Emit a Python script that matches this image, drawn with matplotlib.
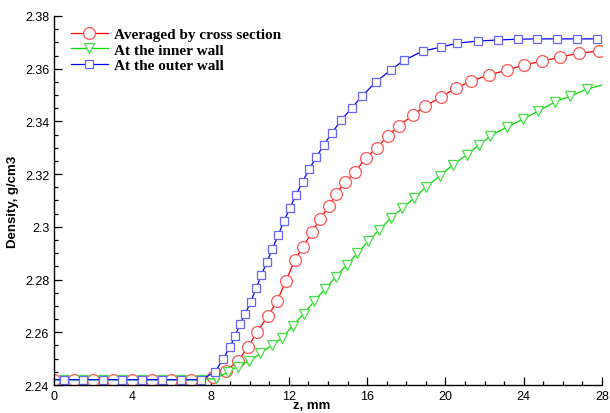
import numpy as np
import matplotlib.pyplot as plt
from matplotlib.ticker import MultipleLocator, FuncFormatter

# Data points (z in mm, density in g/cm3)
z_avg = [0, 1, 2, 3, 4, 5, 6, 7, 8.12, 8.8, 9.4, 9.91, 10.37, 10.94, 11.4,
         11.85, 12.31, 12.72, 13.18, 13.59, 14.05, 14.41, 14.87, 15.38, 15.94,
         16.5, 17.05, 17.62, 18.34, 18.96, 19.78, 20.54, 21.31, 22.23, 23.15,
         24.0, 24.94, 25.86, 26.83, 27.85]
rho_avg = [2.242, 2.242, 2.242, 2.242, 2.242, 2.242, 2.242, 2.242, 2.2430,
           2.2455, 2.2491, 2.2544, 2.2601, 2.2662, 2.2719, 2.2795, 2.2875,
           2.2924, 2.2980, 2.3030, 2.3079, 2.3125, 2.3170, 2.3208, 2.3262,
           2.3300, 2.3345, 2.3383, 2.3424, 2.3458, 2.3493, 2.3527, 2.3553,
           2.3576, 2.3595, 2.3614, 2.3629, 2.3644, 2.3659, 2.3667]

z_inner = [0, 0.5, 1.5, 2.5, 3.5, 4.5, 5.5, 6.5, 7.5, 8.3, 8.87, 9.4, 9.98,
           10.55, 11.12, 11.65, 12.2, 12.75, 13.3, 13.85, 14.4, 14.95, 15.5,
           16.05, 16.6, 17.2, 17.8, 18.4, 19.0, 19.7, 20.39, 21.1, 21.7, 22.3,
           23.15, 23.97, 24.73, 25.6, 26.37, 27.24, 28]
rho_inner = [2.242, 2.242, 2.242, 2.242, 2.242, 2.242, 2.242, 2.242, 2.242,
             2.2425, 2.2449, 2.2470, 2.2491, 2.2520, 2.2550, 2.2578, 2.2625,
             2.2670, 2.2718, 2.2765, 2.2810, 2.2855, 2.2900, 2.2945, 2.2988,
             2.3032, 2.3071, 2.3110, 2.3151, 2.3193, 2.3236, 2.3274, 2.3310,
             2.3345, 2.3379, 2.3409, 2.3439, 2.3474, 2.3496, 2.3523, 2.3538]

z_outer = [0, 0.5, 1.5, 2.5, 3.5, 4.5, 5.5, 6.5, 7.5, 8.23, 8.64, 8.99, 9.25,
           9.5, 9.76, 10.05, 10.33, 10.6, 10.87, 11.15, 11.45, 11.75, 12.05,
           12.37, 12.7, 13.05, 13.4, 13.78, 14.2, 14.68, 15.2, 15.75, 16.45,
           17.2, 17.9, 18.86, 19.78, 20.6, 21.67, 22.7, 23.68, 24.7, 25.7,
           26.72, 27.75, 28]
rho_outer = [2.242, 2.242, 2.242, 2.242, 2.242, 2.242, 2.242, 2.242, 2.242,
             2.2449, 2.2499, 2.2544, 2.2586, 2.2631, 2.2669, 2.2715, 2.2768,
             2.2818, 2.2866, 2.2915, 2.2968, 2.3022, 2.3072, 2.3122, 2.3172,
             2.3220, 2.3265, 2.3310, 2.3357, 2.3405, 2.3450, 2.3497, 2.3550,
             2.3595, 2.3633, 2.3667, 2.3682, 2.3697, 2.3705, 2.3709, 2.3712,
             2.3713, 2.3713, 2.3713, 2.3713, 2.3713]

fig = plt.figure(figsize=(6.1, 4.14), dpi=100)
ax = fig.add_axes([0.0885, 0.0676, 0.8985, 0.8914])

ax.plot(z_avg, rho_avg, color="#ff0000", lw=0.9, marker="o", ms=8.5,
        mfc="white", mec="#ff5555", mew=0.9,
        label="Averaged by cross section")
ax.plot(z_inner, rho_inner, color="#00dd00", lw=0.9, marker="v", ms=6.5,
        mfc="white", mec="#44e044", mew=0.9, markevery=list(range(1, len(z_inner) - 1)),
        label="At the inner wall")
ax.plot(z_outer, rho_outer, color="#0000ff", lw=0.9, marker="s", ms=6,
        mfc="white", mec="#6666ff", mew=0.9, markevery=list(range(1, len(z_outer) - 1)),
        label="At the outer wall")

ax.set_xlim(0, 28)
ax.set_ylim(2.24, 2.38)
ax.xaxis.set_major_locator(MultipleLocator(4))
ax.xaxis.set_minor_locator(MultipleLocator(1))
ax.yaxis.set_major_locator(MultipleLocator(0.02))
ax.yaxis.set_minor_locator(MultipleLocator(0.005))
ax.yaxis.set_major_formatter(FuncFormatter(lambda v, p: ("%.2f" % v).rstrip("0").rstrip(".")))

for s in ["top", "right"]:
    ax.spines[s].set_visible(False)
for s in ["left", "bottom"]:
    ax.spines[s].set_linewidth(1.0)
ax.tick_params(which="both", direction="in", width=0.9)
ax.tick_params(which="major", length=6)
ax.tick_params(which="minor", length=3)
for lab in ax.get_xticklabels() + ax.get_yticklabels():
    lab.set_fontfamily("Liberation Sans")
    lab.set_fontsize(9)

ax.set_xlabel("z, mm", fontfamily="Liberation Sans", fontweight="bold", fontsize=9.5)
ax.xaxis.set_label_coords(0.47, -0.038)
ax.set_ylabel("Density, g/cm3", fontfamily="Liberation Sans", fontweight="bold", fontsize=9.5, labelpad=4)

leg = ax.legend(loc="upper left", frameon=False, handlelength=2.4, handletextpad=0.4,
                labelspacing=0.12, borderaxespad=0.0, bbox_to_anchor=(0.02, 0.985),
                prop={"family": "Liberation Serif", "weight": "bold", "size": 11})

fig.savefig("out.png", dpi=100)
